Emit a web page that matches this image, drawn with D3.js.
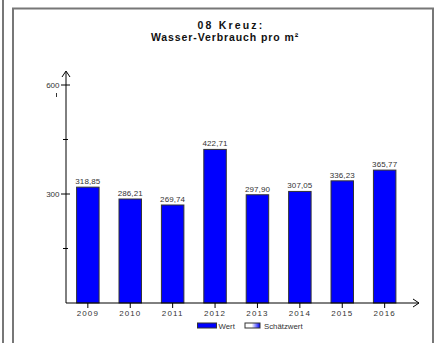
<!DOCTYPE html>
<html>
<head>
<meta charset="utf-8">
<script src="https://cdn.jsdelivr.net/npm/d3@7"></script>
<style>
  body { margin: 0; background: #fff; }
  svg { display: block; font-family: "Liberation Sans", Arial, sans-serif; }
</style>
</head>
<body>
<div id="chart"></div>
<script>
// data
var years = ["2009", "2010", "2011", "2012", "2013", "2014", "2015", "2016"];
var values = [318.85, 286.21, 269.74, 422.71, 297.90, 307.05, 336.23, 365.77];
var yTicks = [300, 600];
var yMinor = [150, 450];
var titleLines = ["08 Kreuz:", "Wasser-Verbrauch pro m²"];
var legendItems = ["Wert", "Schätzwert"];

var width = 435, height = 343;

var svg = d3.select("#chart")
  .append("svg")
  .attr("width", width)
  .attr("height", height);

// gradient for the estimate swatch
var grad = svg.append("defs").append("linearGradient")
  .attr("id", "est")
  .attr("x1", "0%").attr("x2", "100%");
grad.append("stop").attr("offset", "45%").attr("stop-color", "#ffffff");
grad.append("stop").attr("offset", "100%").attr("stop-color", "#0000ff");

// frame lines
svg.append("line")
  .attr("x1", 3).attr("x2", 3).attr("y1", 0).attr("y2", height)
  .attr("stroke", "#777").attr("stroke-width", 2);
svg.append("path")
  .attr("d", "M13," + height + "V8.5H433V" + height)
  .attr("fill", "none")
  .attr("stroke", "#777").attr("stroke-width", 2);

// title
svg.append("g").selectAll("text")
  .data(titleLines)
  .join("text")
  .attr("x", function (d, i) { return i == 0 ? 231 : 225; })
  .attr("y", function (d, i) { return 29 + i * 12; })
  .attr("text-anchor", "middle")
  .attr("font-size", "10.5px")
  .attr("font-weight", "bold")
  .attr("letter-spacing", function (d, i) { return i == 0 ? "2.2px" : "0.9px"; })
  .attr("fill", "#111")
  .text(function (d) { return d; });

// scales
var x = d3.scaleBand()
  .domain(years)
  .range([66, 406.5])
  .paddingInner(0.47)
  .paddingOuter(0.25);

var y = d3.scaleLinear()
  .domain([0, 600])
  .range([303, 85]);

// bars
svg.append("g").selectAll("rect")
  .data(values)
  .join("rect")
  .attr("x", function (d, i) { return x(years[i]); })
  .attr("y", function (d) { return y(d); })
  .attr("width", x.bandwidth())
  .attr("height", function (d) { return y(0) - y(d); })
  .attr("fill", "#0000ff")
  .attr("stroke", "#333")
  .attr("stroke-width", 1);

// value labels
svg.append("g").selectAll("text")
  .data(values)
  .join("text")
  .attr("x", function (d, i) { return x(years[i]) + x.bandwidth() / 2; })
  .attr("y", function (d) { return y(d) - 3; })
  .attr("text-anchor", "middle")
  .attr("font-size", "8px")
  .attr("letter-spacing", "0.1px")
  .attr("fill", "#333")
  .text(function (d) { return d.toFixed(2).replace(".", ","); });

// y axis
var yAxis = svg.append("g");
yAxis.append("line")
  .attr("x1", 66).attr("x2", 66)
  .attr("y1", 303).attr("y2", 72)
  .attr("stroke", "#000");
yAxis.append("path")
  .attr("d", "M62,77L66,71L70,77")
  .attr("fill", "none").attr("stroke", "#000");
yAxis.selectAll(".major")
  .data(yTicks)
  .join("line")
  .attr("x1", 61).attr("x2", 70)
  .attr("y1", function (d) { return y(d); })
  .attr("y2", function (d) { return y(d); })
  .attr("stroke", "#000");
yAxis.selectAll(".minor")
  .data(yMinor)
  .join("line")
  .attr("x1", 63).attr("x2", 68)
  .attr("y1", function (d) { return y(d); })
  .attr("y2", function (d) { return y(d); })
  .attr("stroke", "#000");
yAxis.selectAll("text")
  .data(yTicks)
  .join("text")
  .attr("x", 59.5)
  .attr("y", function (d) { return y(d) + 3; })
  .attr("text-anchor", "end")
  .attr("font-size", "8px")
  .attr("fill", "#333")
  .text(function (d) { return d; });
// small mark under 600
yAxis.append("line")
  .attr("x1", 56.5).attr("x2", 56.5)
  .attr("y1", y(600) + 8).attr("y2", y(600) + 12)
  .attr("stroke", "#333");

// x axis
var xAxis = svg.append("g");
xAxis.append("line")
  .attr("x1", 66).attr("x2", 419)
  .attr("y1", 303).attr("y2", 303)
  .attr("stroke", "#000");
xAxis.append("path")
  .attr("d", "M413,299L419,303L413,307")
  .attr("fill", "none").attr("stroke", "#000");
xAxis.selectAll("line.tick")
  .data(years)
  .join("line")
  .attr("class", "tick")
  .attr("x1", function (d) { return x(d) + x.bandwidth() / 2; })
  .attr("x2", function (d) { return x(d) + x.bandwidth() / 2; })
  .attr("y1", 303).attr("y2", 308)
  .attr("stroke", "#000");
xAxis.selectAll("text")
  .data(years)
  .join("text")
  .attr("x", function (d) { return x(d) + x.bandwidth() / 2; })
  .attr("y", 316)
  .attr("text-anchor", "middle")
  .attr("font-size", "8px")
  .attr("letter-spacing", "1.1px")
  .attr("fill", "#333")
  .text(function (d) { return d; });

// legend
var legend = svg.append("g");
var lx = [197.5, 245];
legend.selectAll("rect")
  .data(legendItems)
  .join("rect")
  .attr("x", function (d, i) { return lx[i]; })
  .attr("y", 323)
  .attr("width", function (d, i) { return i == 0 ? 19 : 15; })
  .attr("height", 5)
  .attr("fill", function (d, i) { return i == 0 ? "#0000ff" : "url(#est)"; })
  .attr("stroke", "#333");
legend.selectAll("text")
  .data(legendItems)
  .join("text")
  .attr("x", function (d, i) { return i == 0 ? 218.5 : 264; })
  .attr("y", 329)
  .attr("font-size", "7.8px")
  .attr("fill", "#333")
  .text(function (d) { return d; });
</script>
</body>
</html>
